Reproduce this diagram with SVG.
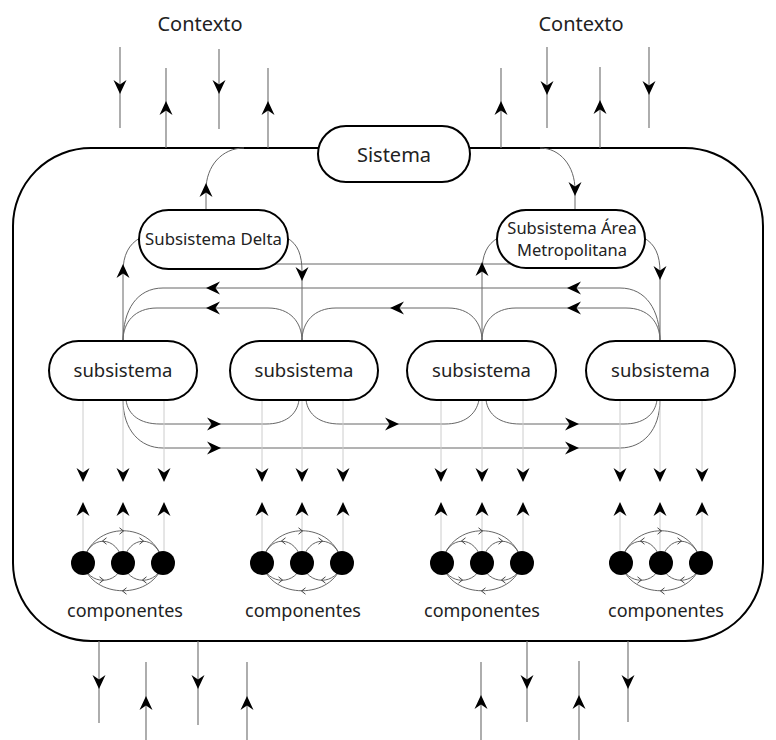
<svg xmlns="http://www.w3.org/2000/svg" xmlns:xlink="http://www.w3.org/1999/xlink" width="776" height="740" viewBox="0 0 776 740">
<style>
.lbl{font-family:"Noto Sans","Open Sans","DejaVu Sans",sans-serif;fill:#222;text-anchor:middle}
.box{fill:#fff;stroke:#000;stroke-width:2}
.frame{fill:none;stroke:#000;stroke-width:2}
.ln{fill:none;stroke:#666;stroke-width:1}
.ctx{fill:none;stroke:#777;stroke-width:1.2}
.gl{fill:none;stroke:#ccc;stroke-width:1}
.arc{fill:none;stroke:#555;stroke-width:0.9}
.ch{fill:none;stroke:#333;stroke-width:0.9}
</style>
<defs>
<path id="ah" d="M0,0 L-14,-6.5 L-9.5,0 L-14,6.5 Z" fill="#000"/>
<path id="ch" d="M-3.5,-3.2 L0.5,0 L-3.5,3.2" class="ch"/>
<g id="cluster">
<path class="arc" d="M-40,0 C-31,-43 31,-43 40,0"/>
<path class="arc" d="M-40,0 C-35,-29 -5,-29 0,0"/>
<path class="arc" d="M0,0 C5,-29 35,-29 40,0"/>
<path class="arc" d="M-40,0 C-35,23 -5,23 0,0"/>
<path class="arc" d="M0,0 C5,23 35,23 40,0"/>
<path class="arc" d="M-40,0 C-31,37 31,37 40,0"/>
<use href="#ch" transform="translate(0,-32)"/>
<use href="#ch" transform="translate(-20,-22) rotate(180)"/>
<use href="#ch" transform="translate(20,-22)"/>
<use href="#ch" transform="translate(-20,17)"/>
<use href="#ch" transform="translate(20,17) rotate(180)"/>
<use href="#ch" transform="translate(0,28) rotate(180)"/>
<circle cx="-40" cy="0" r="12" fill="#000"/>
<circle cx="0" cy="0" r="12" fill="#000"/>
<circle cx="40" cy="0" r="12" fill="#000"/>
</g>
</defs>
<rect width="776" height="740" fill="#fff"/>

<g id="contexto-top-left"><text class="lbl" x="200" y="31" font-size="20">Contexto</text></g>
<g id="contexto-top-right"><text class="lbl" x="581" y="31" font-size="20">Contexto</text></g>

<g id="frame"><rect class="frame" x="13" y="148" width="750" height="493" rx="78" ry="78"/></g>

<g id="connectors">
<!-- context lines top -->
<path class="ctx" d="M120,47 V128"/><use href="#ah" transform="translate(120,94) rotate(90)"/>
<path class="ctx" d="M166,68 V148"/><use href="#ah" transform="translate(166,101) rotate(-90)"/>
<path class="ctx" d="M219,49 V129"/><use href="#ah" transform="translate(219,94) rotate(90)"/>
<path class="ctx" d="M268,68 V148"/><use href="#ah" transform="translate(268,101) rotate(-90)"/>
<path class="ctx" d="M501,68 V148"/><use href="#ah" transform="translate(501,101) rotate(-90)"/>
<path class="ctx" d="M547,47 V128"/><use href="#ah" transform="translate(547,95) rotate(90)"/>
<path class="ctx" d="M600,67 V148"/><use href="#ah" transform="translate(600,100) rotate(-90)"/>
<path class="ctx" d="M649,47 V128"/><use href="#ah" transform="translate(649,95) rotate(90)"/>
<!-- context lines bottom -->
<path class="ctx" d="M99,641 V723"/><use href="#ah" transform="translate(99,689) rotate(90)"/>
<path class="ctx" d="M146,662 V740"/><use href="#ah" transform="translate(146,696) rotate(-90)"/>
<path class="ctx" d="M198,641 V725"/><use href="#ah" transform="translate(198,689) rotate(90)"/>
<path class="ctx" d="M247,662 V740"/><use href="#ah" transform="translate(247,696) rotate(-90)"/>
<path class="ctx" d="M481,662 V740"/><use href="#ah" transform="translate(481,695) rotate(-90)"/>
<path class="ctx" d="M527,641 V722"/><use href="#ah" transform="translate(527,689) rotate(90)"/>
<path class="ctx" d="M579,661 V740"/><use href="#ah" transform="translate(579,695) rotate(-90)"/>
<path class="ctx" d="M628,641 V722"/><use href="#ah" transform="translate(628,689) rotate(90)"/>

<!-- Sistema to subsystems -->
<path class="ln" d="M244,148 C222,148 206,166 206,190 L206,210"/><use href="#ah" transform="translate(206,183) rotate(-90)"/>
<path class="ln" d="M540,148 C560,148 575,166 575,190 L575,210"/><use href="#ah" transform="translate(575,196) rotate(90)"/>

<!-- Delta / Area to subsistemas -->
<path class="ln" d="M270,264 L515,264"/>
<path class="ln" d="M140,238 C129,244 123,255 123,272 L123,341"/><use href="#ah" transform="translate(123,264) rotate(-90)"/>
<path class="ln" d="M287,238 C298,244 302,255 302,272 L302,341"/><use href="#ah" transform="translate(302,281) rotate(90)"/>
<path class="ln" d="M498,238 C487,244 482,255 482,272 L482,341"/><use href="#ah" transform="translate(482,262) rotate(-90)"/>
<path class="ln" d="M644,238 C655,244 660,255 660,272 L660,341"/><use href="#ah" transform="translate(660,280) rotate(90)"/>

<!-- upper horizontal flows (right to left) -->
<path class="ln" d="M660,341 C660,310 646,288 620,288 L163,288 C137,288 123,310 123,341"/>
<use href="#ah" transform="translate(206,288) rotate(180)"/>
<use href="#ah" transform="translate(567,288) rotate(180)"/>
<path class="ln" d="M302,341 C302,322 290,308 268,308 L157,308 C135,308 123,322 123,341"/>
<use href="#ah" transform="translate(206,308) rotate(180)"/>
<path class="ln" d="M482,341 C482,322 470,308 448,308 L336,308 C314,308 302,322 302,341"/>
<use href="#ah" transform="translate(390,308) rotate(180)"/>
<path class="ln" d="M660,341 C660,322 648,308 626,308 L516,308 C494,308 482,322 482,341"/>
<use href="#ah" transform="translate(567,308) rotate(180)"/>

<!-- lower horizontal flows (left to right) -->
<path class="ln" d="M126,400 C128,415 140,424 160,424 L266,424 C285,424 297,415 299,400"/>
<use href="#ah" transform="translate(221,424)"/>
<path class="ln" d="M306,400 C308,415 320,424 340,424 L445,424 C464,424 476,415 479,400"/>
<use href="#ah" transform="translate(399,424)"/>
<path class="ln" d="M486,400 C488,415 500,424 520,424 L624,424 C643,424 655,415 657,400"/>
<use href="#ah" transform="translate(579,424)"/>
<path class="ln" d="M123,400 C123,430 140,448 163,448 L620,448 C643,448 660,430 660,400"/>
<use href="#ah" transform="translate(221,448)"/>
<use href="#ah" transform="translate(579,448)"/>

<!-- subsistema to componentes -->
<g id="sub-comp-lines">
<path class="gl" d="M83,400 V481 M123,400 V481 M164,400 V481 M83,563 V503 M123,563 V503 M164,563 V503"/>
<path class="gl" d="M262,400 V481 M302,400 V481 M343,400 V481 M262,563 V503 M302,563 V503 M343,563 V503"/>
<path class="gl" d="M441,400 V481 M482,400 V481 M523,400 V481 M441,563 V503 M482,563 V503 M523,563 V503"/>
<path class="gl" d="M620,400 V481 M660,400 V481 M702,400 V481 M620,563 V503 M660,563 V503 M702,563 V503"/>
<use href="#ah" transform="translate(83,482) rotate(90)"/><use href="#ah" transform="translate(123,482) rotate(90)"/><use href="#ah" transform="translate(164,482) rotate(90)"/>
<use href="#ah" transform="translate(83,502) rotate(-90)"/><use href="#ah" transform="translate(123,502) rotate(-90)"/><use href="#ah" transform="translate(164,502) rotate(-90)"/>
<use href="#ah" transform="translate(262,482) rotate(90)"/><use href="#ah" transform="translate(302,482) rotate(90)"/><use href="#ah" transform="translate(343,482) rotate(90)"/>
<use href="#ah" transform="translate(262,502) rotate(-90)"/><use href="#ah" transform="translate(302,502) rotate(-90)"/><use href="#ah" transform="translate(343,502) rotate(-90)"/>
<use href="#ah" transform="translate(441,482) rotate(90)"/><use href="#ah" transform="translate(482,482) rotate(90)"/><use href="#ah" transform="translate(523,482) rotate(90)"/>
<use href="#ah" transform="translate(441,502) rotate(-90)"/><use href="#ah" transform="translate(482,502) rotate(-90)"/><use href="#ah" transform="translate(523,502) rotate(-90)"/>
<use href="#ah" transform="translate(620,482) rotate(90)"/><use href="#ah" transform="translate(660,482) rotate(90)"/><use href="#ah" transform="translate(702,482) rotate(90)"/>
<use href="#ah" transform="translate(620,502) rotate(-90)"/><use href="#ah" transform="translate(660,502) rotate(-90)"/><use href="#ah" transform="translate(702,502) rotate(-90)"/>
</g>
</g>

<g id="sistema">
<rect class="box" x="318" y="126" width="152" height="56" rx="28"/>
<text class="lbl" x="394" y="162" font-size="20">Sistema</text>
</g>
<g id="subsistema-delta">
<rect class="box" x="139" y="210" width="149" height="59" rx="29.5"/>
<text class="lbl" x="213.5" y="245" font-size="16.8">Subsistema Delta</text>
</g>
<g id="subsistema-area">
<rect class="box" x="497" y="210" width="148" height="58" rx="29"/>
<text class="lbl" x="572" y="234" font-size="16.5">Subsistema Área</text>
<text class="lbl" x="572" y="256" font-size="16.5">Metropolitana</text>
</g>
<g id="subsistema-1">
<rect class="box" x="49" y="341" width="148" height="59" rx="29.5"/>
<text class="lbl" x="123" y="377" font-size="18.5">subsistema</text>
</g>
<g id="subsistema-2">
<rect class="box" x="230" y="341" width="148" height="59" rx="29.5"/>
<text class="lbl" x="304" y="377" font-size="18.5">subsistema</text>
</g>
<g id="subsistema-3">
<rect class="box" x="407" y="341" width="149" height="59" rx="29.5"/>
<text class="lbl" x="481.5" y="377" font-size="18.5">subsistema</text>
</g>
<g id="subsistema-4">
<rect class="box" x="586" y="341" width="149" height="59" rx="29.5"/>
<text class="lbl" x="660.5" y="377" font-size="18.5">subsistema</text>
</g>

<g id="componentes-1"><use href="#cluster" transform="translate(123,563)"/><text class="lbl" x="125" y="617" font-size="18">componentes</text></g>
<g id="componentes-2"><use href="#cluster" transform="translate(302,563)"/><text class="lbl" x="303" y="617" font-size="18">componentes</text></g>
<g id="componentes-3"><use href="#cluster" transform="translate(482,563)"/><text class="lbl" x="482" y="617" font-size="18">componentes</text></g>
<g id="componentes-4"><use href="#cluster" transform="translate(661,563)"/><text class="lbl" x="666" y="617" font-size="18">componentes</text></g>
</svg>
